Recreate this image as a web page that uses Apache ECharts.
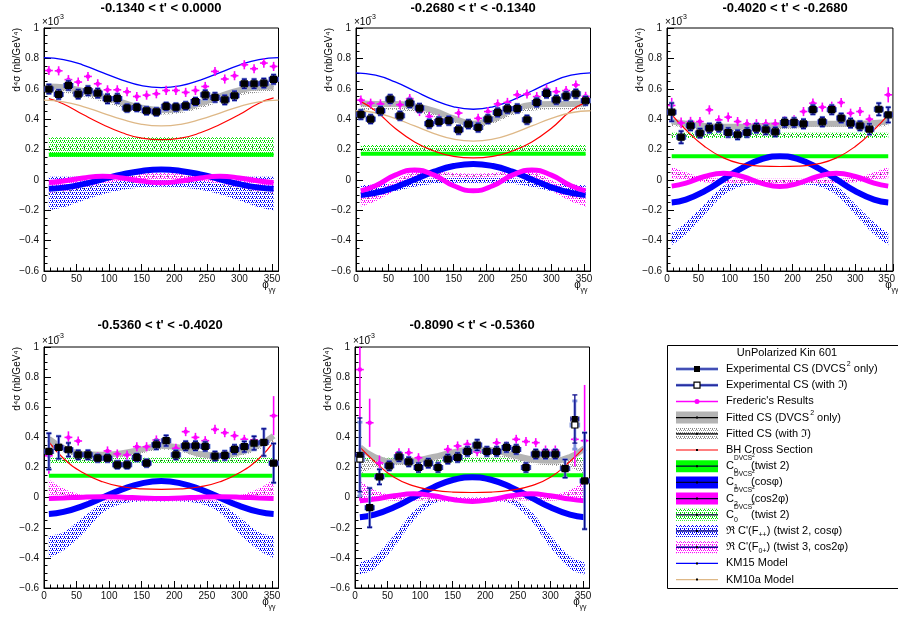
<!DOCTYPE html>
<html><head><meta charset="utf-8">
<script src="https://cdn.jsdelivr.net/npm/echarts@6/dist/echarts.min.js"></script>
<style>html,body{margin:0;padding:0;background:#fff}#c{width:898px;height:619px}</style>
</head><body><div id="c"></div>
<script>
// ---------------- DATA ----------------
const phiBins = [7.5,22.5,37.5,52.5,67.5,82.5,97.5,112.5,127.5,142.5,157.5,172.5,187.5,202.5,217.5,232.5,247.5,262.5,277.5,292.5,307.5,322.5,337.5,352.5];
const curvePhi = [7.5,30,60,90,120,150,180,210,240,270,300,330,352.5];
const modelPhi = [0,30,60,90,120,150,180,210,240,270,300,330,360];
const flatPhi = [7.5,352.5];
const panelTitles = ["-0.1340 < t' < 0.0000","-0.2680 < t' < -0.1340","-0.4020 < t' < -0.2680","-0.5360 < t' < -0.4020","-0.8090 < t' < -0.5360"];

// Panel 1
const p1Exp = [0.598,0.563,0.622,0.565,0.587,0.571,0.534,0.536,0.473,0.477,0.455,0.448,0.484,0.479,0.488,0.516,0.56,0.543,0.527,0.554,0.633,0.633,0.637,0.662];
const p1ExpErr = [0.03,0.03,0.03,0.03,0.03,0.03,0.03,0.03,0.025,0.025,0.025,0.025,0.025,0.025,0.025,0.025,0.03,0.03,0.03,0.03,0.03,0.03,0.03,0.03];
const p1Fred = [0.72,0.718,0.66,0.644,0.681,0.633,0.593,0.593,0.58,0.549,0.558,0.567,0.589,0.589,0.576,0.589,0.615,0.714,0.664,0.686,0.758,0.732,0.769,0.747];
const p1FredErr = [0.03,0.03,0.03,0.03,0.03,0.03,0.03,0.03,0.03,0.03,0.03,0.03,0.03,0.03,0.03,0.03,0.03,0.03,0.03,0.03,0.03,0.03,0.03,0.03];
const p1Fit = [0.615,0.61,0.585,0.55,0.51,0.475,0.46,0.47,0.505,0.55,0.59,0.61,0.615];
const p1FitILo = [0.58,0.575,0.55,0.515,0.475,0.44,0.43,0.44,0.47,0.515,0.555,0.575,0.58];
const p1FitIHi = [0.62,0.615,0.59,0.555,0.515,0.48,0.465,0.475,0.51,0.555,0.595,0.615,0.62];
const p1BH = [0.535,0.50,0.43,0.365,0.31,0.275,0.265,0.275,0.31,0.365,0.43,0.505,0.54];
const p1C0 = [0.165,0.165];
const p1C0ILo = [0.15,0.15];
const p1C0IHi = [0.28,0.28];
const p1C1 = [-0.059,-0.051,-0.028,0.004,0.036,0.059,0.068,0.059,0.036,0.004,-0.028,-0.051,-0.059];
const p1C2 = [-0.018,-0.008,0.013,0.024,0.013,-0.008,-0.019,-0.008,0.013,0.024,0.013,-0.008,-0.018];
const p1ReLo = [-0.2,-0.18,-0.135,-0.095,-0.065,-0.05,-0.045,-0.05,-0.065,-0.095,-0.135,-0.18,-0.2];
const p1ReHi = [0.02,0.02,0.02,0.018,0.015,0.012,0.01,0.012,0.015,0.018,0.02,0.02,0.02];
const p1Re3Lo = [-0.085,-0.075,-0.05,-0.025,-0.005,0.005,0.005,0.005,-0.005,-0.025,-0.05,-0.075,-0.085];
const p1Re3Hi = [-0.005,0.0,0.015,0.03,0.04,0.045,0.045,0.045,0.04,0.03,0.015,0.0,-0.005];
const p1KM15 = [0.805,0.792,0.756,0.706,0.657,0.62,0.607,0.62,0.657,0.706,0.756,0.792,0.805];
const p1KM10a = [0.525,0.514,0.483,0.44,0.398,0.366,0.355,0.366,0.398,0.44,0.483,0.514,0.525];

// Panel 2
const p2Exp = [0.43,0.40,0.455,0.532,0.422,0.505,0.473,0.37,0.385,0.39,0.33,0.367,0.345,0.40,0.444,0.468,0.47,0.396,0.51,0.569,0.527,0.552,0.567,0.521];
const p2ExpErr = [0.03,0.028,0.028,0.028,0.028,0.028,0.028,0.028,0.028,0.028,0.028,0.028,0.028,0.028,0.028,0.028,0.028,0.028,0.028,0.028,0.028,0.028,0.028,0.028];
const p2Fred = [0.525,0.505,0.50,0.52,0.495,0.535,0.45,0.418,0.40,0.39,0.44,0.37,0.405,0.45,0.50,0.51,0.56,0.565,0.548,0.597,0.581,0.588,0.625,0.55];
const p2FredErr = [0.03,0.03,0.03,0.03,0.03,0.03,0.03,0.03,0.03,0.03,0.03,0.03,0.03,0.03,0.03,0.03,0.03,0.03,0.03,0.03,0.03,0.03,0.03,0.03];
const p2Fit = [0.505,0.50,0.50,0.485,0.455,0.405,0.37,0.40,0.46,0.495,0.50,0.50,0.505];
const p2FitILo = [0.46,0.46,0.46,0.445,0.415,0.37,0.34,0.37,0.425,0.455,0.465,0.465,0.465];
const p2FitIHi = [0.50,0.50,0.50,0.485,0.455,0.405,0.37,0.40,0.46,0.495,0.50,0.50,0.505];
const p2BH = [0.515,0.455,0.34,0.25,0.19,0.155,0.145,0.155,0.19,0.25,0.34,0.455,0.51];
const p2C0 = [0.172,0.172];
const p2C0ILo = [0.165,0.165];
const p2C0IHi = [0.23,0.23];
const p2C1 = [-0.099,-0.086,-0.049,0.003,0.054,0.091,0.105,0.091,0.054,0.003,-0.049,-0.086,-0.099];
const p2C2 = [-0.072,-0.039,0.031,0.065,0.031,-0.039,-0.072,-0.039,0.031,0.065,0.031,-0.039,-0.072];
const p2ReLo = [-0.11,-0.1,-0.075,-0.045,-0.025,-0.02,-0.02,-0.02,-0.025,-0.045,-0.075,-0.1,-0.11];
const p2ReHi = [-0.035,-0.03,-0.015,0.0,0.01,0.012,0.012,0.012,0.01,0.0,-0.015,-0.03,-0.035];
const p2Re3Lo = [-0.175,-0.14,-0.07,0.015,0.025,0.02,0.015,0.02,0.025,0.015,-0.07,-0.14,-0.175];
const p2Re3Hi = [-0.085,-0.07,0.0,0.055,0.055,0.045,0.04,0.045,0.055,0.055,0.0,-0.07,-0.085];
const p2KM15 = [0.705,0.689,0.645,0.585,0.525,0.481,0.465,0.481,0.525,0.585,0.645,0.689,0.705];
const p2KM10a = [0.455,0.442,0.405,0.355,0.305,0.268,0.255,0.268,0.305,0.355,0.405,0.442,0.455];

// Panel 3
const p3Exp = [0.446,0.281,0.356,0.308,0.341,0.347,0.312,0.297,0.312,0.341,0.33,0.316,0.378,0.378,0.369,0.462,0.382,0.462,0.407,0.374,0.356,0.334,0.465,0.428];
const p3ExpErr = [0.06,0.04,0.03,0.03,0.03,0.03,0.03,0.03,0.03,0.03,0.03,0.03,0.03,0.03,0.03,0.03,0.03,0.03,0.03,0.03,0.03,0.035,0.04,0.05];
const p3Fred = [0.49,0.375,0.385,0.384,0.461,0.395,0.413,0.384,0.369,0.37,0.369,0.37,0.39,0.395,0.45,0.505,0.479,0.485,0.509,0.439,0.45,0.40,0.47,0.56];
const p3FredErr = [0.05,0.035,0.03,0.03,0.03,0.03,0.03,0.03,0.03,0.03,0.03,0.03,0.03,0.03,0.03,0.03,0.03,0.03,0.03,0.03,0.03,0.03,0.035,0.05];
const p3Fit = [0.385,0.37,0.355,0.35,0.35,0.355,0.36,0.365,0.37,0.37,0.37,0.375,0.385];
const p3FitILo = [0.355,0.345,0.33,0.325,0.325,0.33,0.335,0.34,0.345,0.345,0.345,0.35,0.355];
const p3FitIHi = [0.38,0.365,0.35,0.345,0.345,0.35,0.355,0.36,0.365,0.365,0.365,0.37,0.38];
const p3BH = [0.43,0.33,0.22,0.145,0.105,0.09,0.088,0.09,0.105,0.145,0.22,0.33,0.43];
const p3C0 = [0.155,0.155];
const p3C0ILo = [0.275,0.275];
const p3C0IHi = [0.31,0.31];
const p3C1 = [-0.149,-0.13,-0.074,0.003,0.079,0.135,0.155,0.135,0.079,0.003,-0.074,-0.13,-0.149];
const p3C2 = [-0.041,-0.021,0.022,0.043,0.022,-0.021,-0.043,-0.021,0.022,0.043,0.022,-0.021,-0.041];
const p3ReLo = [-0.43,-0.36,-0.23,-0.1,-0.04,-0.03,-0.03,-0.03,-0.04,-0.1,-0.23,-0.36,-0.43];
const p3ReHi = [-0.35,-0.28,-0.16,-0.04,0.0,0.005,0.005,0.005,0.0,-0.04,-0.16,-0.28,-0.35];
const p3Re3Lo = [0.01,0.0,-0.015,-0.02,-0.02,-0.02,-0.02,-0.02,-0.02,-0.02,-0.015,0.0,0.01];
const p3Re3Hi = [0.085,0.05,0.015,0.008,0.008,0.008,0.008,0.008,0.008,0.008,0.015,0.05,0.085];

// Panel 4
const p4Exp = [0.307,0.333,0.318,0.284,0.284,0.262,0.262,0.218,0.218,0.267,0.229,0.351,0.378,0.284,0.344,0.344,0.34,0.276,0.28,0.32,0.338,0.362,0.367,0.229];
const p4ExpErr = [0.12,0.075,0.045,0.03,0.03,0.025,0.025,0.025,0.025,0.025,0.025,0.03,0.035,0.03,0.03,0.03,0.03,0.03,0.03,0.03,0.035,0.045,0.09,0.13];
const p4Fred = [0.278,0.34,0.40,0.376,0.29,0.27,0.31,0.29,0.283,0.338,0.338,0.383,0.38,0.327,0.438,0.40,0.378,0.453,0.431,0.411,0.387,0.383,0.37,0.544];
const p4FredErr = [0.12,0.07,0.04,0.03,0.03,0.03,0.03,0.03,0.03,0.03,0.03,0.03,0.03,0.03,0.03,0.03,0.03,0.03,0.03,0.03,0.03,0.03,0.05,0.13];
const p4Fit = [0.39,0.33,0.29,0.285,0.295,0.32,0.345,0.33,0.29,0.28,0.30,0.35,0.41];
const p4FitILo = [0.35,0.30,0.265,0.26,0.27,0.295,0.32,0.305,0.265,0.255,0.275,0.32,0.37];
const p4FitIHi = [0.39,0.33,0.29,0.285,0.295,0.32,0.345,0.33,0.29,0.28,0.30,0.35,0.41];
const p4BH = [0.37,0.26,0.165,0.105,0.072,0.058,0.055,0.058,0.072,0.105,0.165,0.26,0.37];
const p4C0 = [0.145,0.145];
const p4C0ILo = [0.23,0.23];
const p4C0IHi = [0.265,0.265];
const p4C1 = [-0.109,-0.095,-0.055,0.0,0.055,0.095,0.11,0.095,0.055,0.0,-0.055,-0.095,-0.109];
const p4C2 = [-0.005,-0.002,0.003,0.005,0.003,-0.002,-0.005,-0.002,0.003,0.005,0.003,-0.002,-0.005];
const p4ReLo = [-0.4,-0.35,-0.24,-0.1,-0.04,-0.025,-0.025,-0.025,-0.04,-0.1,-0.24,-0.35,-0.4];
const p4ReHi = [-0.25,-0.23,-0.13,-0.035,0.0,0.0,0.0,0.0,0.0,-0.035,-0.13,-0.23,-0.25];
const p4Re3Lo = [0.0,-0.01,-0.015,-0.02,-0.02,-0.02,-0.02,-0.02,-0.02,-0.02,-0.015,-0.01,0.0];
const p4Re3Hi = [0.12,0.06,0.015,0.005,0.005,0.005,0.005,0.005,0.005,0.005,0.015,0.06,0.12];

// Panel 5
const p5Exp = [0.284,-0.067,0.138,0.211,0.271,0.238,0.20,0.229,0.20,0.256,0.267,0.307,0.349,0.307,0.307,0.333,0.32,0.20,0.289,0.289,0.289,0.193,0.522,0.111];
const p5ExpI = [0.256,-0.067,0.138,0.211,0.271,0.238,0.20,0.229,0.20,0.256,0.267,0.307,0.349,0.307,0.307,0.333,0.32,0.20,0.289,0.289,0.289,0.193,0.482,0.111];
const p5ExpErr = [0.245,0.13,0.05,0.03,0.03,0.03,0.03,0.03,0.03,0.03,0.03,0.03,0.035,0.03,0.03,0.03,0.03,0.03,0.03,0.03,0.03,0.06,0.16,0.32];
const p5Fred = [0.85,0.497,0.23,0.21,0.298,0.298,0.265,0.23,0.21,0.32,0.343,0.354,0.305,0.31,0.364,0.343,0.387,0.372,0.365,0.316,0.316,0.2,0.387,0.378];
const p5FredErr = [0.87,0.16,0.05,0.03,0.03,0.03,0.03,0.03,0.03,0.03,0.03,0.03,0.03,0.03,0.03,0.03,0.03,0.03,0.03,0.03,0.03,0.05,0.18,0.37];
const p5Fit = [0.335,0.27,0.24,0.245,0.27,0.30,0.32,0.315,0.285,0.255,0.245,0.27,0.33];
const p5FitILo = [0.155,0.20,0.215,0.22,0.24,0.27,0.29,0.285,0.255,0.225,0.215,0.20,0.155];
const p5FitIHi = [0.245,0.25,0.24,0.24,0.265,0.295,0.315,0.31,0.28,0.25,0.24,0.25,0.245];
const p5BH = [0.335,0.24,0.135,0.078,0.05,0.037,0.034,0.037,0.05,0.078,0.135,0.24,0.335];
const p5C0 = [0.148,0.148];
const p5C0ILo = [0.235,0.235];
const p5C0IHi = [0.265,0.265];
const p5C1 = [-0.13,-0.113,-0.064,0.002,0.068,0.117,0.135,0.117,0.068,0.002,-0.064,-0.113,-0.13];
const p5C2 = [-0.02,-0.01,0.012,0.025,0.012,-0.012,-0.025,-0.012,0.012,0.025,0.012,-0.01,-0.02];
const p5ReLo = [-0.51,-0.47,-0.33,-0.15,-0.04,-0.025,-0.025,-0.025,-0.04,-0.15,-0.33,-0.47,-0.51];
const p5ReHi = [-0.43,-0.39,-0.25,-0.09,-0.005,0.0,0.0,0.0,-0.005,-0.09,-0.25,-0.39,-0.43];
const p5Re3Lo = [0.0,-0.01,-0.02,-0.02,-0.02,-0.025,-0.025,-0.025,-0.02,-0.02,-0.02,-0.01,0.0];
const p5Re3Hi = [0.11,0.05,0.01,0.0,0.0,0.0,0.0,0.0,0.0,0.0,0.01,0.05,0.11];

const legendTitle = 'UnPolarized Kin 601';

// ---------------- STYLE / LAYOUT ----------------
const FONT = '"Liberation Sans", Arial, Helvetica, sans-serif';
const BLUE='#0000ff', RED='#ff0000', GREEN='#00ff00', MAG='#ff00ff', TAN='#deb887', GREY='#b4b4b4', NAVY='#0b0b8c', HALO='#7d92dc';
const W = 234.5;
const layout = [
  {left:44, top:28, h:243, tx:161, ty:8},
  {left:356, top:28, h:243, tx:473, ty:8},
  {left:667, top:28, h:243, tx:785, ty:8},
  {left:44, top:347, h:241, tx:160, ty:325},
  {left:355, top:347, h:241, tx:472, ty:325}
];

function dots(color){
  const c=document.createElement('canvas'); c.width=4; c.height=4;
  const g=c.getContext('2d'); g.fillStyle=color;
  [[0,0],[2,0],[1,2],[3,2],[0,1]].forEach(([x,y])=>g.fillRect(x,y,1,1));
  return {image:c, repeat:'repeat'};
}
const patBlue = dots(BLUE), patMag = dots(MAG), patGreen = dots('#00e000'), patGrey = dots('#8a8a8a');

const P = [
  {exp:p1Exp, expI:p1Exp, expErr:p1ExpErr, fred:p1Fred, fredErr:p1FredErr, fit:p1Fit, fitLo:p1FitILo, fitHi:p1FitIHi, bh:p1BH, c0:p1C0, c0Lo:p1C0ILo, c0Hi:p1C0IHi, c1:p1C1, c2:p1C2, reLo:p1ReLo, reHi:p1ReHi, re3Lo:p1Re3Lo, re3Hi:p1Re3Hi, km15:p1KM15, km10a:p1KM10a},
  {exp:p2Exp, expI:p2Exp, expErr:p2ExpErr, fred:p2Fred, fredErr:p2FredErr, fit:p2Fit, fitLo:p2FitILo, fitHi:p2FitIHi, bh:p2BH, c0:p2C0, c0Lo:p2C0ILo, c0Hi:p2C0IHi, c1:p2C1, c2:p2C2, reLo:p2ReLo, reHi:p2ReHi, re3Lo:p2Re3Lo, re3Hi:p2Re3Hi, km15:p2KM15, km10a:p2KM10a},
  {exp:p3Exp, expI:p3Exp, expErr:p3ExpErr, fred:p3Fred, fredErr:p3FredErr, fit:p3Fit, fitLo:p3FitILo, fitHi:p3FitIHi, bh:p3BH, c0:p3C0, c0Lo:p3C0ILo, c0Hi:p3C0IHi, c1:p3C1, c2:p3C2, reLo:p3ReLo, reHi:p3ReHi, re3Lo:p3Re3Lo, re3Hi:p3Re3Hi},
  {exp:p4Exp, expI:p4Exp, expErr:p4ExpErr, fred:p4Fred, fredErr:p4FredErr, fit:p4Fit, fitLo:p4FitILo, fitHi:p4FitIHi, bh:p4BH, c0:p4C0, c0Lo:p4C0ILo, c0Hi:p4C0IHi, c1:p4C1, c2:p4C2, reLo:p4ReLo, reHi:p4ReHi, re3Lo:p4Re3Lo, re3Hi:p4Re3Hi},
  {exp:p5Exp, expI:p5ExpI, expErr:p5ExpErr, fred:p5Fred, fredErr:p5FredErr, fit:p5Fit, fitLo:p5FitILo, fitHi:p5FitIHi, bh:p5BH, c0:p5C0, c0Lo:p5C0ILo, c0Hi:p5C0IHi, c1:p5C1, c2:p5C2, reLo:p5ReLo, reHi:p5ReHi, re3Lo:p5Re3Lo, re3Hi:p5Re3Hi}
];

// ---------------- SERIES BUILDERS ----------------
function pairs(xs, ys){ return xs.map((x,k)=>[x, ys[k]]); }
function lineS(i, xs, ys, color, width, z, extra){
  return Object.assign({type:'line', xAxisIndex:i, yAxisIndex:i, data:pairs(xs,ys), symbol:'none', showSymbol:false,
    smooth:true, silent:true, z:z, lineStyle:{color:color, width:width, cap:'butt'}}, extra||{});
}
// cubic (Catmull-Rom style) path through pixel points, for drawing a smooth band outline
function smoothSeg(pts){
  let s='';
  for (let k=0;k<pts.length-1;k++){
    const p0=pts[k-1]||pts[k], p1=pts[k], p2=pts[k+1], p3=pts[k+2]||pts[k+1];
    const c1x=p1[0]+(p2[0]-p0[0])/6, c1y=p1[1]+(p2[1]-p0[1])/6;
    const c2x=p2[0]-(p3[0]-p1[0])/6, c2y=p2[1]-(p3[1]-p1[1])/6;
    s+='C'+c1x+','+c1y+' '+c2x+','+c2y+' '+p2[0]+','+p2[1]+' ';
  }
  return s;
}
function band(i, xs, lo, hi, pat, z, center){
  const out = [{type:'custom', xAxisIndex:i, yAxisIndex:i, clip:true, silent:true, z:z,
    data: xs.map((x,k)=>[x, lo[k], hi[k]]),
    renderItem: function(params, api){
      if (params.dataIndex !== 0) return null;
      const top = xs.map((x,k)=>api.coord([x, hi[k]]));
      const bot = xs.map((x,k)=>api.coord([x, lo[k]])).reverse();
      const d = 'M'+top[0][0]+','+top[0][1]+' '+smoothSeg(top)+'L'+bot[0][0]+','+bot[0][1]+' '+smoothSeg(bot)+'Z';
      return {type:'path', shape:{pathData:d}, style:{fill:pat, stroke:null}};
    }}];
  if (center) out.push(lineS(i, xs, lo.map((v,k)=>(v+hi[k])/2), center, 1, z, {lineStyle:{color:center, width:1, type:[1,6]}}));
  return out;
}
function errS(i, vals, errs, color, width, caps, z){
  return {type:'custom', xAxisIndex:i, yAxisIndex:i, clip:true, silent:true, z:z,
    data: phiBins.map((p,k)=>[p, vals[k], errs[k]]),
    renderItem: function(params, api){
      const x=api.value(0), y=api.value(1), e=api.value(2), hw=6;
      const yt=Math.min(y+e, 1), yb=Math.max(y-e, -0.6);
      const c=api.coord([x,y]), t=api.coord([x,yt]), b=api.coord([x,yb]);
      const l=api.coord([x-hw,y]), r=api.coord([x+hw,y]);
      const st={stroke:color, lineWidth:width};
      const ch=[
        {type:'line', shape:{x1:c[0],y1:t[1],x2:c[0],y2:b[1]}, style:st},
        {type:'line', shape:{x1:l[0],y1:c[1],x2:r[0],y2:c[1]}, style:st}
      ];
      if (caps){
        const k=2.5;
        if (y+e<=1) ch.push({type:'line', shape:{x1:c[0]-k,y1:t[1],x2:c[0]+k,y2:t[1]}, style:st});
        if (y-e>=-0.6) ch.push({type:'line', shape:{x1:c[0]-k,y1:b[1],x2:c[0]+k,y2:b[1]}, style:st});
        ch.push({type:'line', shape:{x1:l[0],y1:c[1]-k,x2:l[0],y2:c[1]+k}, style:st});
        ch.push({type:'line', shape:{x1:r[0],y1:c[1]-k,x2:r[0],y2:c[1]+k}, style:st});
      }
      return {type:'group', children:ch};
    }};
}
function markS(i, vals, symbol, size, itemStyle, z){
  return {type:'scatter', xAxisIndex:i, yAxisIndex:i, data:pairs(phiBins, vals), symbol:symbol, symbolSize:size,
    itemStyle:Object.assign({opacity:1}, itemStyle), silent:true, z:z};
}

const series = [];
P.forEach((d,i)=>{
  series.push(...band(i, curvePhi, d.reLo, d.reHi, patBlue, 1, '#000'));
  series.push(...band(i, curvePhi, d.re3Lo, d.re3Hi, patMag, 1, '#000'));
  series.push(...band(i, flatPhi, d.c0Lo, d.c0Hi, patGreen, 1, '#000'));
  series.push(...band(i, curvePhi, d.fitLo, d.fitHi, patGrey, 1, null));
  series.push(lineS(i, flatPhi, d.c0, GREEN, 4, 2, {smooth:false}));
  series.push(lineS(i, curvePhi, d.c1, BLUE, 6, 2));
  series.push(lineS(i, curvePhi, d.c2, MAG, 5, 2));
  series.push(lineS(i, curvePhi, d.fit, GREY, 6, 2));
  series.push(lineS(i, curvePhi, d.bh, RED, 1.2, 3));
  if (d.km15) series.push(lineS(i, modelPhi, d.km15, BLUE, 1.3, 3));
  if (d.km10a) series.push(lineS(i, modelPhi, d.km10a, TAN, 1.3, 3));
  series.push(errS(i, d.fred, d.fredErr, MAG, 1.6, false, 4));
  series.push(markS(i, d.fred, 'circle', 4.5, {color:MAG}, 5));
  series.push(errS(i, d.expI, d.expErr, HALO, 2.8, true, 6));
  series.push(errS(i, d.exp, d.expErr, NAVY, 1.3, true, 6));
  series.push(markS(i, d.expI, 'rect', 6, {color:'#fff', borderColor:'#000', borderWidth:1.2}, 7));
  series.push(markS(i, d.exp, 'rect', 6, {color:'#000'}, 8));
});

// ---------------- GRAPHICS (titles, axis titles, legend) ----------------
const mctx = document.createElement('canvas').getContext('2d');
function tw(t, size){ mctx.font = size+'px '+FONT; return mctx.measureText(t).width; }
function txt(x, y, text, size, extra){
  return Object.assign({type:'text', x:x, y:y, silent:true, z:100,
    style:{text:text, fontSize:size, fontFamily:FONT, fill:'#000', align:'left', verticalAlign:'middle'}}, extra||{});
}
const graphics = [];
layout.forEach((L,i)=>{
  graphics.push(txt(L.tx, L.ty, panelTitles[i], 13, {style:{text:panelTitles[i], fontSize:13, fontWeight:'bold', fontFamily:FONT, fill:'#000', align:'center', verticalAlign:'middle'}}));
  graphics.push(txt(L.left-2, L.top-5.5, '×10', 10));
  graphics.push(txt(L.left+12, L.top-11, '−3', 7));
  graphics.push({type:'text', x:L.left-27, y:L.top, rotation:Math.PI/2, silent:true, z:100,
    style:{text:'d⁴σ (nb/GeV⁴)', fontSize:10, fontFamily:FONT, fill:'#000', align:'right', verticalAlign:'middle'}});
  const right=L.left+W, bottom=L.top+L.h;
  graphics.push(txt(right-13, bottom+14, 'φ', 10, {style:{text:'φ', fontSize:10, fontFamily:FONT, fill:'#000', align:'center', verticalAlign:'middle'}}));
  graphics.push(txt(right-10, bottom+19.5, 'γγ', 7));
});

// legend
const LX0=676, LX1=718, LXT=726;
const legendRows = [
  {kind:'exp', parts:[['Experimental CS (DVCS'],['2','sup'],[' only)']]},
  {kind:'expI', parts:[['Experimental CS (with ℑ)']]},
  {kind:'fred', parts:[["Frederic's Results"]]},
  {kind:'fit', parts:[['Fitted CS (DVCS'],['2','sup'],[' only)']]},
  {kind:'fitI', parts:[['Fitted CS (with ℑ)']]},
  {kind:'bh', parts:[['BH Cross Section']]},
  {kind:'c0', c:'0', tail:'(twist 2)'},
  {kind:'c1', c:'1', tail:'(cosφ)'},
  {kind:'c2', c:'2', tail:'(cos2φ)'},
  {kind:'c0I', c:'0', tail:'(twist 2)'},
  {kind:'re', parts:[["ℜ C'(F"],['++','sub'],[') (twist 2, cosφ)']]},
  {kind:'re3', parts:[["ℜ C'(F"],['0+','sub'],[') (twist 3, cos2φ)']]},
  {kind:'km15', parts:[['KM15 Model']]},
  {kind:'km10a', parts:[['KM10a Model']]}
];
graphics.push({type:'rect', shape:{x:667.5, y:345.5, width:240, height:243}, style:{fill:'#fff', stroke:'#000', lineWidth:1}, z:90, silent:true});
graphics.push(txt(787, 353, legendTitle, 11, {style:{text:legendTitle, fontSize:11, fontFamily:FONT, fill:'#000', align:'center', verticalAlign:'middle'}}));
function hline(y, color, w){ return {type:'line', shape:{x1:LX0,y1:y,x2:LX1,y2:y}, style:{stroke:color, lineWidth:w}, z:101, silent:true}; }
function swRect(y, fill){ return {type:'rect', shape:{x:LX0, y:y-6, width:LX1-LX0, height:12}, style:{fill:fill}, z:100, silent:true}; }
function dot(y, color, r){ return {type:'rect', shape:{x:697-r, y:y-r, width:2*r, height:2*r}, style:{fill:color}, z:102, silent:true}; }
legendRows.forEach((row, k)=>{
  const y = 369 + k*16.2;
  switch(row.kind){
    case 'exp': graphics.push(hline(y, HALO, 3), hline(y, NAVY, 1.2), dot(y,'#000',3)); break;
    case 'expI': graphics.push(hline(y, HALO, 3), hline(y, NAVY, 1.2),
      {type:'rect', shape:{x:694, y:y-3, width:6, height:6}, style:{fill:'#fff', stroke:'#000', lineWidth:1.2}, z:102, silent:true}); break;
    case 'fred': graphics.push(hline(y, MAG, 1.5), {type:'circle', shape:{cx:697, cy:y, r:2.5}, style:{fill:MAG}, z:102, silent:true}); break;
    case 'fit': graphics.push(swRect(y, GREY), hline(y, '#000', 1.2), dot(y,'#000',1)); break;
    case 'fitI': graphics.push(swRect(y, patGrey), hline(y, '#000', 1.2), dot(y,'#000',1)); break;
    case 'bh': graphics.push(hline(y, RED, 1.2), dot(y,'#000',1)); break;
    case 'c0': graphics.push(swRect(y, GREEN), hline(y, '#003', 1.2), dot(y,'#000',1)); break;
    case 'c1': graphics.push(swRect(y, BLUE), hline(y, '#003', 1.2), dot(y,'#000',1)); break;
    case 'c2': graphics.push(swRect(y, MAG), hline(y, '#003', 1.2), dot(y,'#000',1)); break;
    case 'c0I': graphics.push(swRect(y, patGreen), hline(y, '#003', 1.2), dot(y,'#000',1)); break;
    case 're': graphics.push(swRect(y, patBlue), hline(y, NAVY, 1.5), dot(y,'#000',1)); break;
    case 're3': graphics.push(swRect(y, patMag), hline(y, NAVY, 1.5), dot(y,'#000',1)); break;
    case 'km15': graphics.push(hline(y, BLUE, 1.3), dot(y,'#000',1)); break;
    case 'km10a': graphics.push(hline(y, TAN, 1.3), dot(y,'#000',1)); break;
  }
  if (row.parts){
    let x = LXT;
    row.parts.forEach(([t, mode])=>{
      if (mode==='sup'){ graphics.push(txt(x+1, y-5, t, 7)); x += tw(t,7)+1; }
      else if (mode==='sub'){ graphics.push(txt(x, y+4, t, 7)); x += tw(t,7); }
      else { graphics.push(txt(x, y, t, 11)); x += tw(t,11); }
    });
  } else {
    graphics.push(txt(LXT, y, 'C', 11));
    graphics.push(txt(LXT+8, y-8, 'DVCS', 6.5));
    graphics.push(txt(LXT+8+tw('DVCS',6.5), y-11, '2', 5));
    graphics.push(txt(LXT+8, y+5, row.c, 7));
    graphics.push(txt(751, y, row.tail, 11));
  }
});

// ---------------- OPTION ----------------
const axisCommon = {axisLine:{show:true, onZero:false, lineStyle:{color:'#000', width:1}},
  splitLine:{show:false}};
const option = {
  animation:false,
  backgroundColor:'#fff',
  grid: layout.map(L=>({left:L.left, top:L.top, width:W, height:L.h, show:true, borderColor:'#000', borderWidth:1, backgroundColor:'transparent'})),
  xAxis: layout.map((L,i)=>Object.assign({type:'value', gridIndex:i, min:0, max:360, interval:50,
    axisTick:{show:true, inside:true, length:7, lineStyle:{color:'#000'}},
    minorTick:{show:true, splitNumber:5, length:3.5, lineStyle:{color:'#000'}},
    axisLabel:{margin:3, fontSize:10, color:'#111', fontFamily:FONT, formatter:v=> v>355 ? '' : String(v)}}, axisCommon)),
  yAxis: layout.map((L,i)=>Object.assign({type:'value', gridIndex:i, min:-0.6, max:1, interval:0.2,
    axisTick:{show:true, inside:true, length:7, lineStyle:{color:'#000'}},
    minorTick:{show:true, splitNumber:4, length:3.5, lineStyle:{color:'#000'}},
    axisLabel:{margin:5, fontSize:10, color:'#111', fontFamily:FONT, formatter:v=>{
      const r=Math.round(v*10)/10; if (Math.abs(r)<1e-9) return '0'; return (r<0?'−':'')+String(Math.abs(r)); }}}, axisCommon)),
  series: series,
  graphic: graphics
};
const chart = echarts.init(document.getElementById('c'), null, {renderer:'canvas'});
chart.setOption(option);
</script></body></html>
